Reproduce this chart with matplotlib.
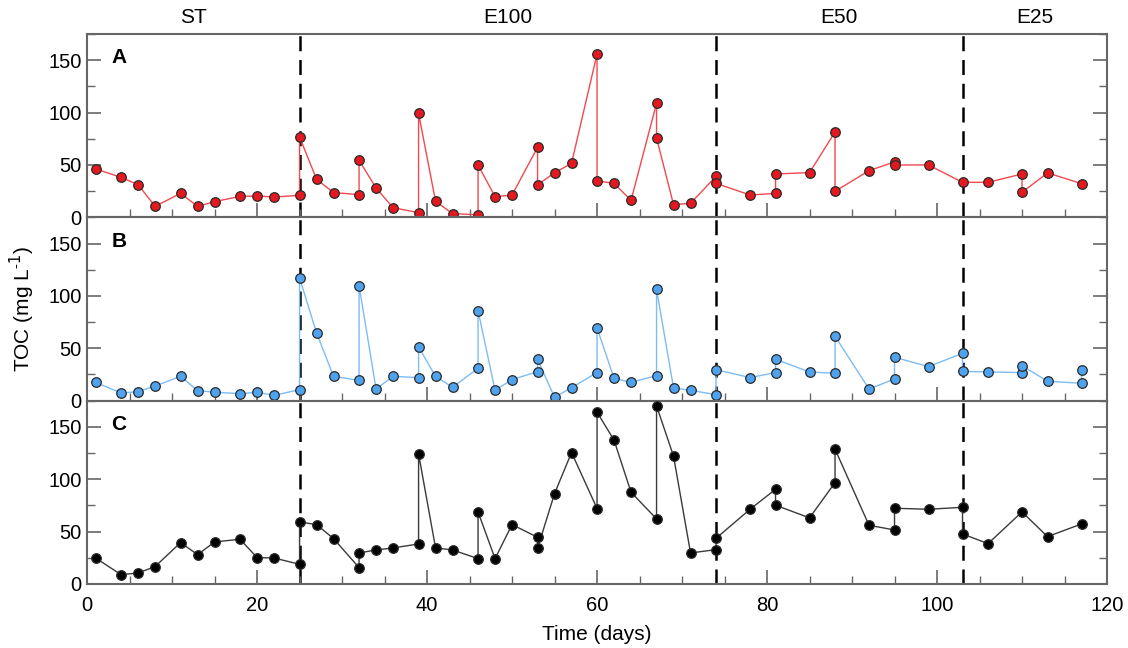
import matplotlib
matplotlib.use("Agg")
import matplotlib.pyplot as plt
from matplotlib.ticker import MultipleLocator

plt.rcParams["font.family"] = ["Liberation Sans", "DejaVu Sans"]

# TOC time series, points listed in the order they are joined
days_A = [1, 4, 6, 8, 11, 13, 15, 18, 20, 22, 25, 25, 27, 29, 32, 32, 34, 36, 39, 39,
          41, 43, 46, 46, 48, 50, 53, 53, 55, 57, 60, 60, 62, 64, 67, 67, 69, 71, 74, 74,
          78, 81, 81, 85, 88, 88, 92, 95, 95, 99, 103, 106, 110, 110, 113, 117]
toc_A = [46.2, 38.2, 31.2, 10.5, 22.9, 10.5, 15.0, 20.0, 20.4, 19.4, 21.0, 76.8, 36.3, 23.6,
         21.7, 54.5, 28.0, 9.2, 4.5, 99.4, 15.3, 3.5, 2.5, 50.0, 19.7, 21.3, 66.9, 31.2,
         42.4, 51.6, 156.0, 34.7, 32.5, 16.2, 108.9, 75.8, 12.1, 13.4, 39.2, 32.5,
         21.3, 22.9, 41.4, 42.7, 81.5, 24.8, 44.6, 52.9, 50.0, 50.0, 33.4, 33.4, 41.4,
         23.9, 42.4, 32.2]

days_B = [1, 4, 6, 8, 11, 13, 15, 18, 20, 22, 25, 25, 27, 29, 32, 32, 34, 36, 39, 39,
          41, 43, 46, 46, 48, 50, 53, 53, 55, 57, 60, 60, 62, 64, 67, 67, 69, 71, 74, 74,
          78, 81, 81, 85, 88, 88, 92, 95, 95, 99, 103, 103, 106, 110, 110, 113, 117, 117]
toc_B = [17.5, 7.3, 8.6, 14.0, 23.2, 9.6, 8.0, 6.7, 8.0, 5.1, 10.5, 117.2, 64.6, 23.2,
         19.4, 109.9, 11.1, 23.2, 22.0, 51.3, 23.2, 12.7, 30.9, 86.0, 9.9, 20.1, 27.7,
         39.5, 3.2, 12.4, 26.8, 69.4, 21.3, 17.5, 23.9, 106.4, 12.1, 9.9, 5.7, 29.6,
         22.0, 26.8, 39.5, 27.4, 26.1, 61.5, 11.1, 20.7, 41.4, 32.5, 45.2, 28.0, 27.4,
         26.8, 33.4, 18.5, 16.6, 29.3]

days_C = [1, 4, 6, 8, 11, 13, 15, 18, 20, 22, 25, 25, 27, 29, 32, 32, 34, 36, 39, 39,
          41, 43, 46, 46, 48, 50, 53, 53, 55, 57, 60, 60, 62, 64, 67, 67, 69, 71, 74, 74,
          78, 81, 81, 85, 88, 88, 92, 95, 95, 99, 103, 103, 106, 110, 113, 117]
toc_C = [24.8, 8.9, 10.5, 16.6, 39.5, 28.0, 40.1, 42.7, 25.2, 24.8, 18.8, 59.2, 56.7, 43.3,
         15.6, 29.6, 32.5, 34.4, 38.2, 124.2, 34.4, 32.5, 24.2, 68.8, 24.2, 56.7, 44.6,
         34.1, 86.3, 125.5, 72.0, 164.0, 137.3, 87.6, 62.1, 170.0, 122.0, 29.6, 32.8,
         43.6, 71.3, 90.4, 75.2, 63.1, 96.8, 128.7, 56.0, 51.6, 72.3, 71.3, 73.2, 47.8,
         38.5, 68.8, 45.2, 57.3]

# treatment boundaries and phase names
phase_edges = [0, 25, 74, 103, 120]
phase_names = ["ST", "E100", "E50", "E25"]

panels = [
    ("A", days_A, toc_A, "#e3191f", "#f0494f"),
    ("B", days_B, toc_B, "#4fa3ee", "#7dbcf5"),
    ("C", days_C, toc_C, "#000000", "#3a3a3a"),
]

fig, axes = plt.subplots(3, 1, figsize=(11.28, 6.48), dpi=100, sharex=True)
fig.subplots_adjust(left=0.0772, right=0.9814, top=0.9475, bottom=0.0988, hspace=0)

frame_col = "#666666"
for ax, (letter, x, y, fill, line) in zip(axes, panels):
    ax.plot(x, y, color=line, lw=1.0, zorder=2)
    ax.plot(x, y, ls="none", marker="o", ms=6.9, mfc=fill, mec="#2a2a2a", mew=0.9,
            zorder=3, clip_on=False)
    for edge in phase_edges[1:-1]:
        ax.axvline(edge, color="black", lw=1.8, ls=(0, (6, 3.5)), zorder=1)
    ax.set_xlim(0, 120)
    ax.set_ylim(0, 175)
    ax.yaxis.set_major_locator(MultipleLocator(50))
    ax.yaxis.set_minor_locator(MultipleLocator(25))
    ax.xaxis.set_major_locator(MultipleLocator(20))
    ax.xaxis.set_minor_locator(MultipleLocator(5))
    ax.tick_params(which="both", direction="in", top=False, right=True,
                   color=frame_col, labelsize=14.5)
    ax.tick_params(which="major", length=10, width=1.2)
    ax.tick_params(which="minor", length=6, width=1.0)
    ax.tick_params(axis="y", pad=4)
    ax.tick_params(axis="x", pad=9)
    for sp in ax.spines.values():
        sp.set_color(frame_col)
        sp.set_linewidth(1.5)
    ax.text(0.024, 0.87, letter, transform=ax.transAxes, fontsize=15,
            fontweight="bold", va="center", ha="left")

for name, lo, hi in zip(phase_names, phase_edges[:-1], phase_edges[1:]):
    axes[0].text((lo + hi) / 2, 182, name, ha="center", va="bottom", fontsize=15)

axes[2].set_xlabel("Time (days)", fontsize=15, labelpad=7)
axes[1].set_ylabel("TOC (mg L$^{\\mathregular{\u2010}1}$)", fontsize=15, labelpad=8)

fig.savefig("out.png", dpi=100)
